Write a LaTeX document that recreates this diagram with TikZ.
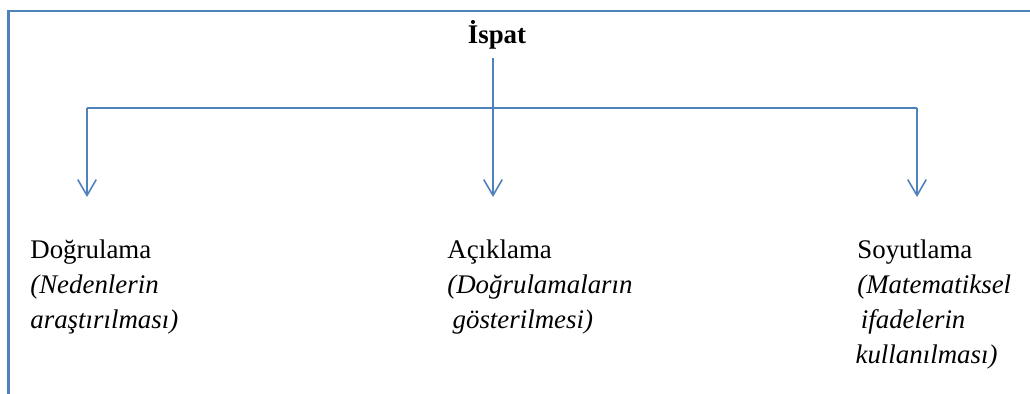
\documentclass[tikz,border=0pt]{standalone}
\usepackage{fontspec}
\setmainfont{Liberation Serif}
\usetikzlibrary{arrows.meta}
\definecolor{ofblue}{RGB}{79,129,189}

\begin{document}
\begin{tikzpicture}[scale=1.0,
    every node/.style={font=\fontsize{15.3}{20}\selectfont, inner sep=0pt},
    frame/.style={line width=1.7pt, ofblue},
    link/.style={line width=0.9pt, ofblue},
    arr/.style={link, -{Straight Barb[length=9pt, width=10.5pt, line width=0.9pt]}},
    item/.style={anchor=north west, align=left}]
    \useasboundingbox (0,0) rectangle (20.6,7.88);

    % Rahmen (oben und links)
    \draw[frame] (20.6,7.66) -- (0.17,7.66) -- (0.17,0);

    % Titel
    \node[anchor=base, font=\fontsize{15.3}{20}\selectfont\bfseries] (ispat) at (9.94,7.0) {İspat};

    % Verzweigung
    \coordinate (stem) at (9.86,6.72);
    \coordinate (split) at (9.86,5.72);
    \coordinate (lbar) at (1.74,5.72);
    \coordinate (rbar) at (18.34,5.72);
    \coordinate (ltip) at (1.74,3.94);
    \coordinate (mtip) at (9.86,3.94);
    \coordinate (rtip) at (18.34,3.94);
    \draw[link] (lbar) -- (rbar);
    \draw[arr] (stem) -- (mtip);
    \draw[arr] (lbar) -- (ltip);
    \draw[arr] (rbar) -- (rtip);

    % Drei Begriffe
    \node[item] (dogrulama) at (0.6,3.09) {Doğrulama\\ \textit{(Nedenlerin}\\ \textit{araştırılması)}};
    \node[item] (aciklama) at (8.94,3.09) {Açıklama\\ \textit{(Doğrulamaların}\\ \hspace*{3pt}\textit{gösterilmesi)}};
    \node[item] (soyutlama) at (17.14,3.09) {Soyutlama\\ \textit{(Matematiksel}\\ \hspace*{2pt}\textit{ifadelerin}\\ \hspace*{-1pt}\textit{kullanılması)}};
\end{tikzpicture}
\end{document}
